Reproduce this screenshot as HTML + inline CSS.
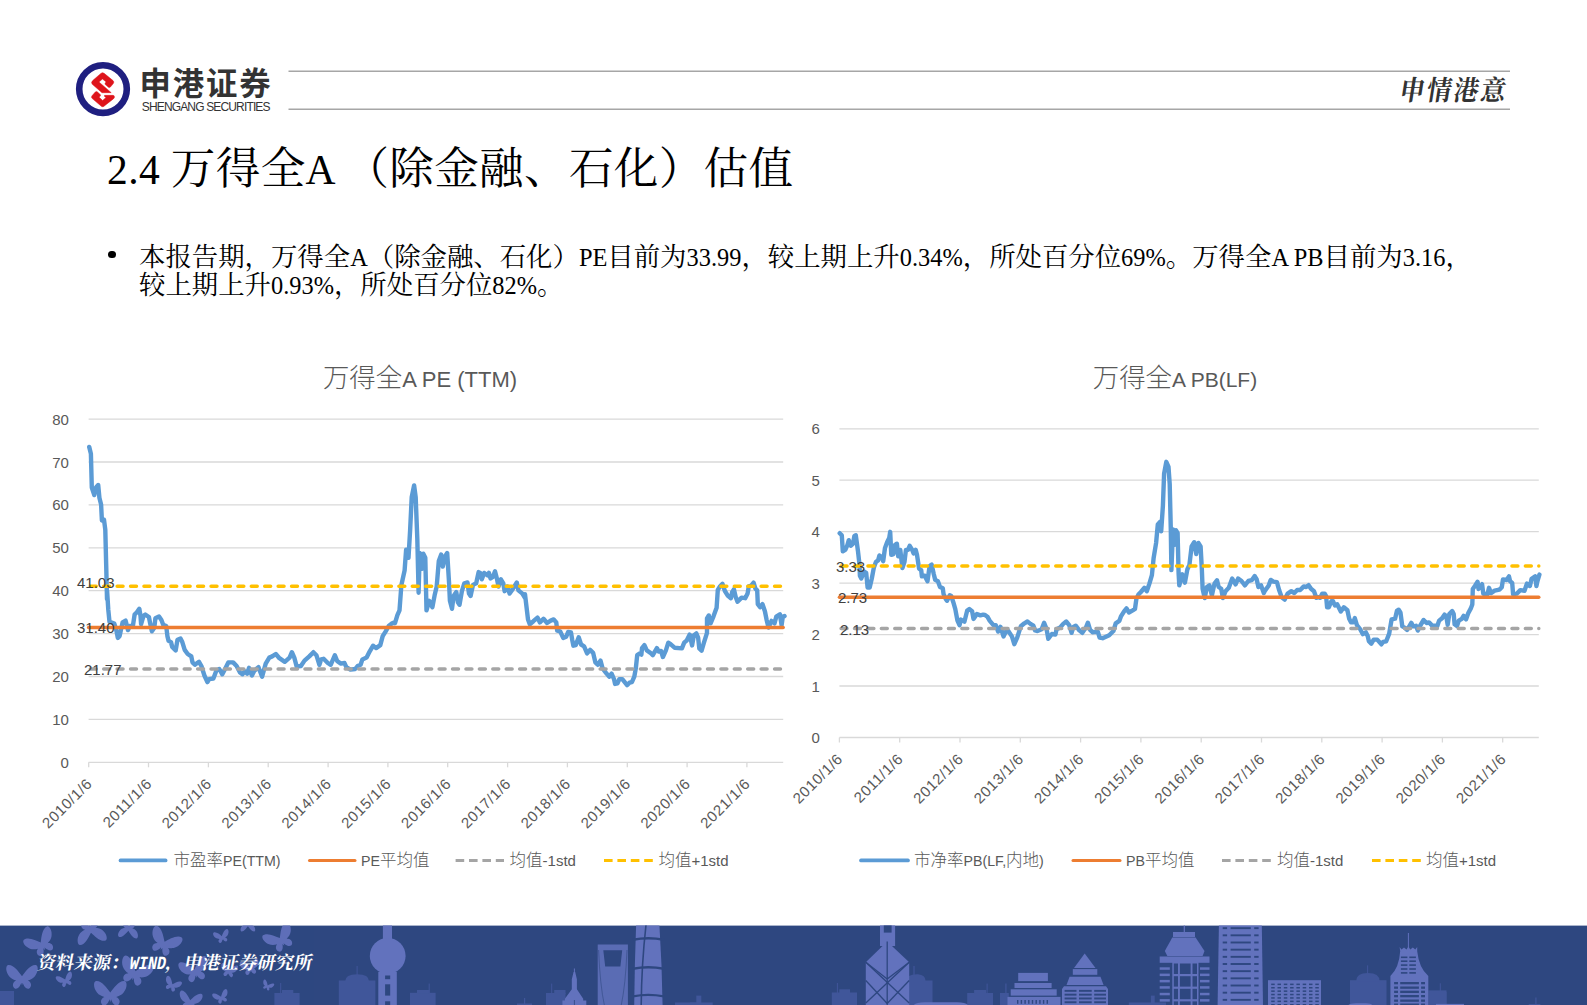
<!DOCTYPE html>
<html lang="zh"><head><meta charset="utf-8"><title>2.4 万得全A（除金融、石化）估值</title>
<style>
html,body{margin:0;padding:0;background:#fff;}
body{width:1587px;height:1005px;position:relative;overflow:hidden;font-family:"Liberation Serif","Noto Serif CJK SC",serif;}
.abs{position:absolute;white-space:nowrap;}
#brand{left:139.5px;top:65.3px;font:bold 31.4px/40px "Liberation Sans","Noto Sans CJK SC",sans-serif;color:#333;letter-spacing:1.9px;}
#brand2{left:141.8px;top:100.2px;font:12px/14px "Liberation Sans",sans-serif;color:#333;letter-spacing:-0.85px;}
#slogan{left:1400px;top:73px;font:700 25px/36px "Liberation Serif","Noto Serif CJK SC",serif;color:#333;transform:skewX(-9deg) scaleY(1.1);letter-spacing:2px;}
#title{left:107px;top:141px;font:44.6px/56px "Liberation Serif","Noto Serif CJK SC",serif;color:#000;}
#body{left:139px;top:244.2px;font:26.4px/27.9px "Liberation Serif","Noto Serif CJK SC",serif;color:#000;}
#bullet{left:108.3px;top:250.8px;width:7.4px;height:7.4px;border-radius:50%;background:#000;position:absolute;}
#src{left:34.5px;top:950px;letter-spacing:0.15px;font:bold 18.2px/26px "Liberation Serif","Noto Serif CJK SC",serif;color:#fff;transform:skewX(-11deg);transform-origin:0 100%;}
#src b{display:inline-block;font:bold 18.5px/26px "Liberation Mono",monospace;width:36.4px;transform:scaleX(0.82);transform-origin:0 50%;letter-spacing:0;}
#title{letter-spacing:0.3px;}
#title .l{font-size:41.5px;letter-spacing:0.4px;}
#body .l{font-size:24.4px;}
svg{position:absolute;left:0;top:0;}
svg text{font-family:'Liberation Sans','Noto Sans CJK SC',sans-serif;}
.ax{font-size:15px;fill:#595959;}
.dt{letter-spacing:0.6px;}
.cj{font-size:16.5px;font-weight:300;}
.up{font-size:14.2px;}
.ttl .cj{font-size:26.4px;}
.val{font-size:15px;fill:#404040;}
.ttl{font-size:21px;fill:#595959;}
.lg{font-size:15px;fill:#595959;}
</style></head><body>
<svg width="1587" height="1005" viewBox="0 0 1587 1005">
<line x1="288.5" y1="71.3" x2="1510" y2="71.3" stroke="#a6a6a6" stroke-width="1.5"/>
<line x1="288.5" y1="109.3" x2="1510" y2="109.3" stroke="#a6a6a6" stroke-width="1.5"/>
<circle cx="103" cy="89.1" r="23.8" fill="#fff" stroke="#1f1f80" stroke-width="6.6"/>
<g fill="#de141b" stroke="#de141b" stroke-width="0.5" stroke-linejoin="round">
<path d="M93,80.3 L100.9,73.4 Q102.47,72 104.1,73.3 L113,80.6 Q114.6,81.9 113.3,83.5 L110.6,86.8 Q109.5,88.1 108.2,87 L105.1,84.3 L105.1,83.1 L106.2,81.95 L102.47,78.97 L98.97,82.04 L111.2,92.65 L102,92.7 L92.3,84.3 Q90.6,82.4 93,80.3 Z"/>
<path d="M104.5,95.37 L112.9,95.37 Q114.5,95.4 114.45,97 Q114.5,97.9 113.3,98.9 L104,106.2 Q102.63,107.2 101.3,106.2 L92.3,98.6 Q90.7,97.25 92,95.8 L95.3,92 Q96.3,90.9 97.5,92 L100.75,95.08 L99.2,97.34 L102.63,100.51 L106.05,97.46 L104.5,96.4 Z"/>
</g>

<line x1="88.6" y1="762.3" x2="783.2" y2="762.3" stroke="#d9d9d9" stroke-width="1.3"/>
<text x="68.9" y="767.8" text-anchor="end" class="ax">0</text>
<line x1="88.6" y1="719.4" x2="783.2" y2="719.4" stroke="#d9d9d9" stroke-width="1.3"/>
<text x="68.9" y="724.9" text-anchor="end" class="ax">10</text>
<line x1="88.6" y1="676.5" x2="783.2" y2="676.5" stroke="#d9d9d9" stroke-width="1.3"/>
<text x="68.9" y="682.0" text-anchor="end" class="ax">20</text>
<line x1="88.6" y1="633.6" x2="783.2" y2="633.6" stroke="#d9d9d9" stroke-width="1.3"/>
<text x="68.9" y="639.1" text-anchor="end" class="ax">30</text>
<line x1="88.6" y1="590.7" x2="783.2" y2="590.7" stroke="#d9d9d9" stroke-width="1.3"/>
<text x="68.9" y="596.2" text-anchor="end" class="ax">40</text>
<line x1="88.6" y1="547.8" x2="783.2" y2="547.8" stroke="#d9d9d9" stroke-width="1.3"/>
<text x="68.9" y="553.3" text-anchor="end" class="ax">50</text>
<line x1="88.6" y1="504.9" x2="783.2" y2="504.9" stroke="#d9d9d9" stroke-width="1.3"/>
<text x="68.9" y="510.4" text-anchor="end" class="ax">60</text>
<line x1="88.6" y1="462.0" x2="783.2" y2="462.0" stroke="#d9d9d9" stroke-width="1.3"/>
<text x="68.9" y="467.5" text-anchor="end" class="ax">70</text>
<line x1="88.6" y1="419.1" x2="783.2" y2="419.1" stroke="#d9d9d9" stroke-width="1.3"/>
<text x="68.9" y="424.6" text-anchor="end" class="ax">80</text>
<line x1="88.7" y1="762.3" x2="88.7" y2="767.3" stroke="#d9d9d9" stroke-width="1.3"/>
<text transform="translate(93.0,784.6) rotate(-45)" text-anchor="end" class="ax dt">2010/1/6</text>
<line x1="148.5" y1="762.3" x2="148.5" y2="767.3" stroke="#d9d9d9" stroke-width="1.3"/>
<text transform="translate(152.8,784.6) rotate(-45)" text-anchor="end" class="ax dt">2011/1/6</text>
<line x1="208.4" y1="762.3" x2="208.4" y2="767.3" stroke="#d9d9d9" stroke-width="1.3"/>
<text transform="translate(212.7,784.6) rotate(-45)" text-anchor="end" class="ax dt">2012/1/6</text>
<line x1="268.2" y1="762.3" x2="268.2" y2="767.3" stroke="#d9d9d9" stroke-width="1.3"/>
<text transform="translate(272.5,784.6) rotate(-45)" text-anchor="end" class="ax dt">2013/1/6</text>
<line x1="328.1" y1="762.3" x2="328.1" y2="767.3" stroke="#d9d9d9" stroke-width="1.3"/>
<text transform="translate(332.4,784.6) rotate(-45)" text-anchor="end" class="ax dt">2014/1/6</text>
<line x1="387.9" y1="762.3" x2="387.9" y2="767.3" stroke="#d9d9d9" stroke-width="1.3"/>
<text transform="translate(392.2,784.6) rotate(-45)" text-anchor="end" class="ax dt">2015/1/6</text>
<line x1="447.7" y1="762.3" x2="447.7" y2="767.3" stroke="#d9d9d9" stroke-width="1.3"/>
<text transform="translate(452.0,784.6) rotate(-45)" text-anchor="end" class="ax dt">2016/1/6</text>
<line x1="507.6" y1="762.3" x2="507.6" y2="767.3" stroke="#d9d9d9" stroke-width="1.3"/>
<text transform="translate(511.9,784.6) rotate(-45)" text-anchor="end" class="ax dt">2017/1/6</text>
<line x1="567.4" y1="762.3" x2="567.4" y2="767.3" stroke="#d9d9d9" stroke-width="1.3"/>
<text transform="translate(571.7,784.6) rotate(-45)" text-anchor="end" class="ax dt">2018/1/6</text>
<line x1="627.3" y1="762.3" x2="627.3" y2="767.3" stroke="#d9d9d9" stroke-width="1.3"/>
<text transform="translate(631.6,784.6) rotate(-45)" text-anchor="end" class="ax dt">2019/1/6</text>
<line x1="687.1" y1="762.3" x2="687.1" y2="767.3" stroke="#d9d9d9" stroke-width="1.3"/>
<text transform="translate(691.4,784.6) rotate(-45)" text-anchor="end" class="ax dt">2020/1/6</text>
<line x1="746.9" y1="762.3" x2="746.9" y2="767.3" stroke="#d9d9d9" stroke-width="1.3"/>
<text transform="translate(751.2,784.6) rotate(-45)" text-anchor="end" class="ax dt">2021/1/6</text>
<path d="M89.2,446.9 L90.9,453.7 L91.8,487.5 L94.3,495.1 L96.0,487.5 L98.2,485.0 L99.4,497.7 L101.1,504.5 L101.9,520.5 L104.0,519.7 L105.3,529.8 L106.2,565.4 L107.0,599.2 L107.1,590.7 L108.3,609.9 L109.5,621.8 L114.3,623.6 L116.3,630.1 L117.8,637.9 L119.6,636.1 L121.4,627.8 L122.6,622.4 L125.6,620.6 L126.8,625.4 L128.0,630.1 L129.8,626.0 L132.8,626.6 L134.6,614.6 L136.9,612.2 L139.3,608.7 L140.5,615.8 L141.1,624.2 L143.5,615.8 L145.3,614.6 L148.9,617.0 L150.1,623.0 L151.9,631.3 L154.3,627.8 L155.4,618.2 L159.0,616.4 L161.4,620.0 L163.2,624.8 L166.2,626.0 L167.4,636.1 L168.6,640.9 L171.0,642.1 L172.2,646.9 L175.7,650.4 L177.5,639.7 L180.5,638.5 L182.3,642.1 L184.7,649.9 L187.7,654.0 L191.3,656.4 L192.5,662.4 L194.9,664.8 L199.0,661.8 L201.4,666.0 L204.4,675.5 L207.4,682.1 L209.2,679.1 L213.4,678.5 L216.3,670.7 L219.3,669.0 L222.3,674.3 L225.3,668.4 L228.3,662.4 L233.1,662.4 L236.6,666.0 L240.0,672.5 L240.0,672.5 L242.4,674.3 L244.8,671.3 L247.2,673.7 L249.0,667.8 L251.9,675.5 L254.3,670.7 L258.5,667.2 L262.1,676.7 L265.7,663.6 L269.3,657.6 L272.2,656.4 L275.8,654.0 L279.4,658.2 L284.8,661.8 L289.6,657.6 L291.9,652.2 L294.3,657.6 L296.7,666.6 L300.9,666.0 L304.5,660.6 L309.3,656.4 L313.4,652.2 L316.4,655.2 L319.4,664.8 L321.2,659.4 L323.6,658.8 L327.8,663.0 L330.7,664.8 L334.9,655.2 L337.3,661.2 L340.9,663.6 L344.5,663.0 L346.3,667.2 L350.4,669.6 L355.2,669.0 L357.6,666.0 L360.6,664.8 L362.4,659.4 L366.6,657.6 L369.6,651.6 L373.1,645.7 L376.1,648.1 L380.3,645.1 L382.7,636.1 L385.7,631.3 L388.7,626.0 L391.6,623.6 L394.6,622.4 L395.0,623.1 L397.4,615.1 L399.5,610.4 L401.4,584.9 L404.6,570.5 L406.1,549.8 L408.5,557.8 L410.1,530.7 L411.7,497.3 L414.1,485.4 L415.7,497.3 L417.3,538.7 L418.6,592.8 L419.7,553.0 L422.1,568.9 L423.3,553.8 L425.3,557.8 L426.5,610.4 L429.2,600.8 L432.4,607.2 L434.8,594.4 L436.7,586.5 L438.8,561.0 L441.2,554.6 L442.8,566.6 L445.2,556.2 L447.2,553.0 L449.1,583.3 L449.9,600.8 L452.0,608.8 L453.6,596.0 L456.3,592.0 L457.9,602.4 L459.5,604.8 L461.9,591.2 L464.3,583.3 L467.5,582.5 L469.0,593.6 L470.6,596.0 L473.0,584.9 L476.2,583.3 L478.6,572.1 L480.2,572.9 L481.8,579.3 L484.2,572.9 L487.4,575.3 L488.9,572.9 L490.5,578.5 L492.9,576.9 L495.0,571.3 L496.9,578.5 L498.5,586.5 L500.9,579.3 L503.3,583.3 L504.6,591.2 L507.3,586.5 L509.6,593.6 L512.8,588.9 L516.8,582.5 L518.4,590.4 L522.4,593.6 L524.8,597.6 L525.0,594.3 L528.0,619.4 L529.8,624.2 L533.4,621.2 L537.5,617.6 L539.9,622.4 L543.5,618.8 L547.1,623.0 L550.7,620.6 L553.7,619.4 L556.3,622.4 L557.2,630.7 L560.2,631.3 L563.2,637.9 L566.2,636.7 L568.2,631.9 L571.0,632.5 L572.2,639.7 L573.4,645.7 L575.7,645.1 L578.7,637.3 L581.1,644.5 L584.1,646.3 L587.1,653.4 L590.1,649.9 L593.1,652.8 L595.4,662.4 L597.8,664.8 L600.5,660.6 L602.6,668.4 L606.2,673.1 L609.2,676.7 L611.6,673.7 L614.0,679.1 L615.1,683.9 L617.5,683.3 L619.3,679.1 L622.3,679.1 L627.1,685.1 L629.5,682.7 L631.9,682.1 L634.3,676.7 L635.8,668.4 L637.2,655.2 L639.9,653.4 L641.4,654.6 L642.0,648.1 L644.4,645.1 L646.8,650.4 L650.4,652.8 L652.8,655.2 L656.9,648.1 L658.7,651.6 L661.1,651.0 L662.9,657.0 L665.9,650.4 L668.3,642.7 L670.0,643.6 L674.8,647.8 L681.9,648.4 L684.3,642.4 L686.7,640.6 L689.7,634.6 L692.1,645.4 L693.9,635.2 L696.3,633.4 L698.1,637.6 L699.3,648.4 L701.6,650.7 L704.0,642.4 L707.0,632.8 L707.0,618.5 L708.8,615.5 L710.6,623.3 L713.6,616.1 L716.6,607.8 L717.8,589.9 L720.1,586.3 L722.5,583.9 L724.9,591.0 L727.9,595.8 L730.9,598.2 L732.1,592.2 L733.9,589.3 L735.7,597.0 L737.5,601.8 L741.6,597.6 L745.2,598.2 L747.6,593.4 L748.8,586.3 L751.2,585.7 L753.6,582.7 L755.4,588.7 L757.2,590.4 L757.8,604.2 L760.1,607.2 L762.5,604.2 L764.9,611.3 L766.7,620.3 L768.5,627.5 L771.5,620.9 L774.5,623.3 L776.3,616.7 L779.9,614.3 L781.6,625.1 L782.8,616.7 L784.6,616.1" fill="none" stroke="#5b9bd5" stroke-width="4.4" stroke-linejoin="round" stroke-linecap="round"/>
<line x1="88.6" y1="627.5" x2="783.2" y2="627.5" stroke="#ed7d31" stroke-width="3.4" stroke-linecap="round"/>
<line x1="88.6" y1="669.0" x2="783.2" y2="669.0" stroke="#a5a5a5" stroke-width="3.5" stroke-dasharray="5.9 7.517" stroke-dashoffset="-1.7" stroke-linecap="round"/>
<line x1="88.6" y1="586.2" x2="783.2" y2="586.2" stroke="#ffc000" stroke-width="3.5" stroke-dasharray="5.9 7.517" stroke-dashoffset="-1.7" stroke-linecap="round"/>
<text x="77" y="587.5" class="val">41.03</text>
<text x="77" y="632.5" class="val">31.40</text>
<text x="84" y="675" class="val">21.77</text>
<text x="420" y="387" text-anchor="middle" class="ttl"><tspan class="cj">万得全</tspan><tspan font-size="22">A PE (TTM)</tspan></text>
<line x1="120.5" y1="860.4" x2="165.6" y2="860.4" stroke="#5b9bd5" stroke-width="3.7" stroke-linecap="round"/>
<text x="173.5" y="866" class="lg"><tspan class="cj">市盈率</tspan><tspan class="up">PE(TTM)</tspan></text>
<line x1="309.5" y1="860.4" x2="355" y2="860.4" stroke="#ed7d31" stroke-width="3.0" stroke-linecap="round"/>
<text x="361" y="866" class="lg"><tspan class="up">PE</tspan><tspan class="cj">平均值</tspan></text>
<line x1="455.6" y1="860.4" x2="504" y2="860.4" stroke="#a5a5a5" stroke-width="3.0" stroke-dasharray="8.6 4.8"/>
<text x="509.6" y="866" class="lg"><tspan class="cj">均值</tspan>-1std</text>
<line x1="604" y1="860.4" x2="653" y2="860.4" stroke="#ffc000" stroke-width="3.0" stroke-dasharray="8.6 4.8"/>
<text x="658.5" y="866" class="lg"><tspan class="cj">均值</tspan>+1std</text>
<line x1="839.4" y1="737.5" x2="1538.8" y2="737.5" stroke="#d9d9d9" stroke-width="1.3"/>
<text x="819.8" y="743.0" text-anchor="end" class="ax">0</text>
<line x1="839.4" y1="686.0" x2="1538.8" y2="686.0" stroke="#d9d9d9" stroke-width="1.3"/>
<text x="819.8" y="691.5" text-anchor="end" class="ax">1</text>
<line x1="839.4" y1="634.6" x2="1538.8" y2="634.6" stroke="#d9d9d9" stroke-width="1.3"/>
<text x="819.8" y="640.1" text-anchor="end" class="ax">2</text>
<line x1="839.4" y1="583.1" x2="1538.8" y2="583.1" stroke="#d9d9d9" stroke-width="1.3"/>
<text x="819.8" y="588.6" text-anchor="end" class="ax">3</text>
<line x1="839.4" y1="531.7" x2="1538.8" y2="531.7" stroke="#d9d9d9" stroke-width="1.3"/>
<text x="819.8" y="537.2" text-anchor="end" class="ax">4</text>
<line x1="839.4" y1="480.2" x2="1538.8" y2="480.2" stroke="#d9d9d9" stroke-width="1.3"/>
<text x="819.8" y="485.7" text-anchor="end" class="ax">5</text>
<line x1="839.4" y1="428.8" x2="1538.8" y2="428.8" stroke="#d9d9d9" stroke-width="1.3"/>
<text x="819.8" y="434.2" text-anchor="end" class="ax">6</text>
<line x1="839.4" y1="737.5" x2="839.4" y2="742.5" stroke="#d9d9d9" stroke-width="1.3"/>
<text transform="translate(843.7,759.8) rotate(-45)" text-anchor="end" class="ax dt">2010/1/6</text>
<line x1="899.7" y1="737.5" x2="899.7" y2="742.5" stroke="#d9d9d9" stroke-width="1.3"/>
<text transform="translate(904.0,759.8) rotate(-45)" text-anchor="end" class="ax dt">2011/1/6</text>
<line x1="960.0" y1="737.5" x2="960.0" y2="742.5" stroke="#d9d9d9" stroke-width="1.3"/>
<text transform="translate(964.3,759.8) rotate(-45)" text-anchor="end" class="ax dt">2012/1/6</text>
<line x1="1020.3" y1="737.5" x2="1020.3" y2="742.5" stroke="#d9d9d9" stroke-width="1.3"/>
<text transform="translate(1024.6,759.8) rotate(-45)" text-anchor="end" class="ax dt">2013/1/6</text>
<line x1="1080.6" y1="737.5" x2="1080.6" y2="742.5" stroke="#d9d9d9" stroke-width="1.3"/>
<text transform="translate(1084.9,759.8) rotate(-45)" text-anchor="end" class="ax dt">2014/1/6</text>
<line x1="1140.9" y1="737.5" x2="1140.9" y2="742.5" stroke="#d9d9d9" stroke-width="1.3"/>
<text transform="translate(1145.2,759.8) rotate(-45)" text-anchor="end" class="ax dt">2015/1/6</text>
<line x1="1201.2" y1="737.5" x2="1201.2" y2="742.5" stroke="#d9d9d9" stroke-width="1.3"/>
<text transform="translate(1205.5,759.8) rotate(-45)" text-anchor="end" class="ax dt">2016/1/6</text>
<line x1="1261.5" y1="737.5" x2="1261.5" y2="742.5" stroke="#d9d9d9" stroke-width="1.3"/>
<text transform="translate(1265.8,759.8) rotate(-45)" text-anchor="end" class="ax dt">2017/1/6</text>
<line x1="1321.8" y1="737.5" x2="1321.8" y2="742.5" stroke="#d9d9d9" stroke-width="1.3"/>
<text transform="translate(1326.1,759.8) rotate(-45)" text-anchor="end" class="ax dt">2018/1/6</text>
<line x1="1382.1" y1="737.5" x2="1382.1" y2="742.5" stroke="#d9d9d9" stroke-width="1.3"/>
<text transform="translate(1386.4,759.8) rotate(-45)" text-anchor="end" class="ax dt">2019/1/6</text>
<line x1="1442.4" y1="737.5" x2="1442.4" y2="742.5" stroke="#d9d9d9" stroke-width="1.3"/>
<text transform="translate(1446.7,759.8) rotate(-45)" text-anchor="end" class="ax dt">2020/1/6</text>
<line x1="1502.7" y1="737.5" x2="1502.7" y2="742.5" stroke="#d9d9d9" stroke-width="1.3"/>
<text transform="translate(1507.0,759.8) rotate(-45)" text-anchor="end" class="ax dt">2021/1/6</text>
<path d="M839.7,533.2 L841.8,535.3 L842.8,551.3 L845.3,549.9 L847.4,545.1 L848.8,540.2 L850.9,545.8 L853.0,543.7 L854.4,536.0 L855.8,535.3 L857.9,550.6 L859.5,564.6 L859.9,575.7 L861.3,578.5 L864.1,571.5 L866.2,572.9 L867.6,587.5 L869.7,587.5 L871.8,578.5 L873.9,567.4 L876.0,561.8 L878.1,560.4 L879.4,555.5 L881.5,556.9 L883.2,561.1 L885.0,547.9 L887.1,542.3 L889.2,538.1 L890.2,531.8 L891.3,554.8 L893.4,554.1 L894.8,545.1 L896.9,543.7 L898.2,556.2 L900.3,549.9 L902.4,568.1 L904.5,561.8 L905.9,549.9 L908.0,549.9 L909.7,545.8 L912.2,549.9 L913.6,553.4 L915.7,549.9 L917.0,554.8 L919.1,568.7 L921.2,570.1 L921.9,576.4 L924.7,575.7 L927.5,581.3 L929.6,566.0 L931.7,564.6 L933.8,574.3 L935.2,579.9 L937.9,581.3 L940.0,586.9 L942.8,588.2 L943.5,593.8 L945.6,598.7 L947.0,600.8 L949.8,595.2 L951.2,595.9 L953.3,602.2 L955.3,609.1 L957.4,620.3 L959.5,625.2 L960.9,619.6 L964.4,621.7 L967.2,610.5 L969.3,609.1 L972.1,611.2 L973.5,618.9 L976.9,614.0 L980.4,615.4 L983.2,614.7 L985.0,614.9 L987.4,616.7 L989.8,620.9 L993.4,625.1 L995.7,625.1 L998.1,631.6 L1000.5,626.9 L1003.5,636.4 L1005.9,631.6 L1008.3,631.0 L1011.9,636.4 L1014.3,644.2 L1017.2,637.6 L1020.8,626.3 L1024.4,623.3 L1027.4,621.5 L1030.4,623.9 L1033.4,625.7 L1035.1,630.4 L1037.5,631.0 L1041.7,629.3 L1044.1,622.7 L1046.5,628.7 L1048.3,638.8 L1051.9,634.0 L1055.4,634.6 L1056.6,629.3 L1060.2,627.5 L1063.2,623.9 L1066.2,621.5 L1069.2,625.1 L1071.6,632.8 L1073.4,626.9 L1075.7,625.7 L1079.3,630.4 L1082.3,632.8 L1085.9,627.5 L1087.9,622.7 L1090.1,629.9 L1092.5,632.2 L1097.8,631.6 L1099.6,637.6 L1102.6,638.2 L1109.2,635.2 L1113.4,631.0 L1115.7,623.3 L1119.3,620.9 L1121.1,616.1 L1124.1,611.3 L1126.5,608.4 L1128.9,612.5 L1133.1,610.1 L1135.0,608.9 L1136.4,598.8 L1138.4,594.6 L1140.9,592.0 L1144.3,587.8 L1146.8,591.2 L1149.4,583.6 L1151.9,575.1 L1153.6,558.2 L1156.1,543.0 L1157.8,524.4 L1160.0,521.9 L1161.2,531.2 L1162.9,505.8 L1164.1,473.7 L1166.3,461.8 L1168.5,466.9 L1169.7,483.8 L1170.8,529.5 L1171.4,570.1 L1173.0,529.5 L1174.7,544.7 L1175.9,530.3 L1177.6,532.9 L1178.6,573.4 L1179.3,585.3 L1182.3,574.3 L1184.9,582.7 L1187.4,569.2 L1189.4,565.0 L1191.6,546.4 L1194.2,542.2 L1196.2,554.0 L1198.4,543.0 L1200.6,546.4 L1201.8,568.4 L1202.6,588.7 L1204.7,598.0 L1206.9,587.0 L1209.4,585.3 L1211.9,595.4 L1214.5,583.6 L1217.0,580.2 L1218.7,587.0 L1221.2,588.7 L1222.9,598.0 L1225.5,591.2 L1228.8,587.8 L1232.2,578.5 L1235.6,584.4 L1238.1,578.5 L1241.5,581.0 L1244.9,585.3 L1248.3,581.0 L1251.7,580.2 L1254.7,576.0 L1256.7,579.4 L1258.4,587.0 L1261.0,585.3 L1263.8,592.9 L1265.0,590.6 L1268.6,585.8 L1270.7,579.9 L1273.4,581.6 L1276.9,582.2 L1279.3,590.6 L1281.7,597.2 L1284.7,599.6 L1287.7,593.6 L1291.3,591.2 L1294.3,593.0 L1297.2,590.0 L1300.2,590.0 L1303.8,586.4 L1306.2,587.0 L1308.6,585.2 L1311.0,588.8 L1314.0,591.2 L1316.3,597.8 L1318.1,597.2 L1320.2,597.8 L1322.3,593.6 L1324.7,593.6 L1326.1,596.0 L1327.1,607.3 L1328.9,607.3 L1331.3,601.3 L1333.1,601.3 L1334.9,605.5 L1337.2,604.3 L1340.8,611.5 L1343.8,607.3 L1347.4,610.3 L1349.2,618.7 L1351.0,622.2 L1353.4,622.2 L1354.8,618.1 L1356.9,625.2 L1359.9,628.8 L1362.9,634.2 L1365.9,632.4 L1367.7,636.0 L1368.9,641.3 L1371.3,643.7 L1373.7,639.6 L1377.2,639.6 L1381.4,644.3 L1383.2,641.9 L1386.2,641.3 L1389.2,633.6 L1391.6,619.3 L1395.1,618.7 L1396.9,610.9 L1398.7,609.7 L1400.5,612.7 L1402.3,626.4 L1404.7,627.6 L1407.1,630.0 L1411.3,622.8 L1413.1,626.4 L1416.0,625.8 L1417.8,630.6 L1420.0,626.0 L1423.6,620.0 L1426.6,623.0 L1429.0,622.4 L1431.9,625.4 L1437.3,626.0 L1439.1,620.6 L1442.1,618.2 L1444.5,614.6 L1446.3,616.4 L1447.7,624.8 L1449.3,614.0 L1452.2,611.0 L1453.7,614.0 L1454.6,624.2 L1457.0,626.0 L1458.8,620.6 L1461.8,618.8 L1463.6,615.8 L1466.0,619.4 L1468.4,612.8 L1470.7,608.7 L1472.3,604.5 L1472.8,589.0 L1474.9,586.0 L1477.6,581.8 L1478.5,589.0 L1482.1,584.2 L1483.3,593.7 L1487.5,594.3 L1489.0,587.8 L1491.0,593.1 L1494.6,590.7 L1499.4,589.6 L1501.8,587.2 L1503.0,579.4 L1506.6,580.0 L1509.0,576.4 L1510.1,581.2 L1512.2,583.0 L1513.1,594.3 L1516.7,593.7 L1520.3,590.1 L1524.5,590.7 L1526.9,583.6 L1529.9,586.0 L1531.6,578.8 L1535.2,576.4 L1536.4,586.0 L1537.6,580.6 L1539.4,574.6" fill="none" stroke="#5b9bd5" stroke-width="4.4" stroke-linejoin="round" stroke-linecap="round"/>
<line x1="839.4" y1="597.2" x2="1538.8" y2="597.2" stroke="#ed7d31" stroke-width="3.4" stroke-linecap="round"/>
<line x1="839.4" y1="628.4" x2="1538.8" y2="628.4" stroke="#a5a5a5" stroke-width="3.5" stroke-dasharray="5.9 7.517" stroke-dashoffset="-1.7" stroke-linecap="round"/>
<line x1="839.4" y1="566.0" x2="1538.8" y2="566.0" stroke="#ffc000" stroke-width="3.5" stroke-dasharray="5.9 7.517" stroke-dashoffset="-1.7" stroke-linecap="round"/>
<text x="836" y="572" class="val">3.33</text>
<text x="838" y="603" class="val">2.73</text>
<text x="840" y="634.5" class="val">2.13</text>
<text x="1175" y="387" text-anchor="middle" class="ttl"><tspan class="cj">万得全</tspan><tspan font-size="21">A PB(LF)</tspan></text>
<line x1="861" y1="860.4" x2="908" y2="860.4" stroke="#5b9bd5" stroke-width="3.7" stroke-linecap="round"/>
<text x="914" y="866" class="lg"><tspan class="cj">市净率</tspan><tspan class="up">PB(LF,</tspan><tspan class="cj">内地</tspan><tspan class="up">)</tspan></text>
<line x1="1073" y1="860.4" x2="1120" y2="860.4" stroke="#ed7d31" stroke-width="3.0" stroke-linecap="round"/>
<text x="1126" y="866" class="lg"><tspan class="up">PB</tspan><tspan class="cj">平均值</tspan></text>
<line x1="1222" y1="860.4" x2="1271" y2="860.4" stroke="#a5a5a5" stroke-width="3.0" stroke-dasharray="8.6 4.8"/>
<text x="1277" y="866" class="lg"><tspan class="cj">均值</tspan>-1std</text>
<line x1="1372" y1="860.4" x2="1421" y2="860.4" stroke="#ffc000" stroke-width="3.0" stroke-dasharray="8.6 4.8"/>
<text x="1426" y="866" class="lg"><tspan class="cj">均值</tspan>+1std</text>
<rect x="0" y="925.6" width="1587" height="80" fill="#2e4780"/>
<defs><clipPath id="fc"><rect x="0" y="925.6" width="1587" height="80"/></clipPath><g id="bf"><path d="M0,-0.12 C0.22,-0.4 0.55,-0.9 0.92,-0.86 C1.12,-0.8 1.08,-0.38 0.86,-0.12 C0.74,0.04 0.55,0.12 0.38,0.16 C0.6,0.24 0.68,0.5 0.52,0.66 C0.36,0.82 0.14,0.62 0.05,0.32 L0,0.5 L-0.05,0.32 C-0.14,0.62 -0.36,0.82 -0.52,0.66 C-0.68,0.5 -0.6,0.24 -0.38,0.16 C-0.55,0.12 -0.74,0.04 -0.86,-0.12 C-1.08,-0.38 -1.12,-0.8 -0.92,-0.86 C-0.55,-0.9 -0.22,-0.4 0,-0.12 Z"/></g></defs>
<g clip-path="url(#fc)">
<g fill="#6272bd" opacity="0.93">
<use href="#bf" transform="translate(41.6,943.9) rotate(-30) scale(14.50)"/>
<use href="#bf" transform="translate(90.7,931) rotate(170) scale(14.00)"/>
<use href="#bf" transform="translate(128.5,929.5) rotate(185) scale(9.50)"/>
<use href="#bf" transform="translate(163.8,943.3) rotate(25) scale(15.00)"/>
<use href="#bf" transform="translate(22,978) rotate(0) scale(15.00)"/>
<use href="#bf" transform="translate(65.5,980.5) rotate(-20) scale(8.00)"/>
<use href="#bf" transform="translate(110.3,994.4) rotate(0) scale(15.50)"/>
<use href="#bf" transform="translate(134.8,973) rotate(20) scale(15.50)"/>
<use href="#bf" transform="translate(172,985) rotate(25) scale(8.00)"/>
<use href="#bf" transform="translate(195,971) rotate(-15) scale(14.00)"/>
<use href="#bf" transform="translate(190,1001.5) rotate(10) scale(11.00)"/>
<use href="#bf" transform="translate(222,937) rotate(-15) scale(7.50)"/>
<use href="#bf" transform="translate(280.7,939.5) rotate(-30) scale(14.50)"/>
<use href="#bf" transform="translate(247.9,925.5) rotate(180) scale(7.00)"/>
<use href="#bf" transform="translate(228.9,971) rotate(10) scale(8.00)"/>
<use href="#bf" transform="translate(250,968) rotate(-10) scale(9.00)"/>
<use href="#bf" transform="translate(267.4,986) rotate(25) scale(5.50)"/>
<use href="#bf" transform="translate(221.4,997.5) rotate(-20) scale(7.50)"/>
</g>
<rect x="0" y="991" width="14.0" height="15.0" fill="#40569a"/>
<rect x="274.4" y="993" width="25.2" height="13.0" fill="#40569a"/>
<rect x="282" y="990" width="11.3" height="4.0" fill="#40569a"/>
<line x1="280.7" y1="983" x2="280.7" y2="994" stroke="#40569a" stroke-width="1"/>
<rect x="338.8" y="980.5" width="36.6" height="25.5" fill="#40569a"/>
<path d="M345.1,981.5 Q345.1,974.2 357.1,974.2 Q369.1,974.2 369.1,981.5 Z" fill="#40569a"/>
<line x1="357.1" y1="966" x2="357.1" y2="975.2" stroke="#40569a" stroke-width="1"/>
<rect x="410" y="992.8" width="25.6" height="13.2" fill="#40569a"/>
<rect x="417" y="990" width="12.6" height="3.8" fill="#40569a"/>
<line x1="429.2" y1="983.6" x2="429.2" y2="993.8" stroke="#40569a" stroke-width="1"/>
<rect x="517" y="1003.5" width="15.0" height="2.5" fill="#40569a"/>
<line x1="524.6" y1="998" x2="524.6" y2="1004" stroke="#40569a" stroke-width="1.2"/>
<rect x="546" y="993" width="19.5" height="13.0" fill="#40569a"/>
<rect x="554.2" y="990" width="11.3" height="4.0" fill="#40569a"/>
<line x1="551.7" y1="983.6" x2="551.7" y2="994" stroke="#40569a" stroke-width="1"/>
<rect x="690" y="1002.5" width="22.7" height="3.5" fill="#40569a"/>
<rect x="696.3" y="995.6" width="5.0" height="7.4" fill="#40569a"/>
<rect x="675" y="1002.5" width="25.0" height="3.5" fill="#40569a"/>
<rect x="831.8" y="992.5" width="25.2" height="13.5" fill="#40569a"/>
<rect x="839.3" y="989.3" width="10.7" height="4.2" fill="#40569a"/>
<line x1="837.4" y1="983" x2="837.4" y2="993.5" stroke="#40569a" stroke-width="1"/>
<rect x="909" y="980.5" width="23.5" height="25.5" fill="#40569a"/>
<path d="M909,981 L909,976 Q912,974 918,974.2 Q925.6,975 925.6,981 Z" fill="#40569a"/>
<line x1="914" y1="966" x2="914" y2="975" stroke="#40569a" stroke-width="1.2"/>
<rect x="967.2" y="993" width="25.8" height="13.0" fill="#40569a"/>
<rect x="974.1" y="990" width="12.0" height="4.0" fill="#40569a"/>
<line x1="987.1" y1="983.6" x2="987.1" y2="994" stroke="#40569a" stroke-width="1"/>
<rect x="1000" y="993" width="8.8" height="13.0" fill="#40569a"/>
<line x1="1005.9" y1="983.6" x2="1005.9" y2="994" stroke="#40569a" stroke-width="1.2"/>
<rect x="1128.8" y="1002.5" width="37.2" height="3.5" fill="#40569a"/>
<rect x="1150.9" y="995.6" width="3.8" height="7.4" fill="#40569a"/>
<rect x="1350" y="980.2" width="36.5" height="25.8" fill="#40569a"/>
<path d="M1356.3,981.2 Q1356.3,973 1367.9499999999998,973 Q1379.6,973 1379.6,981.2 Z" fill="#40569a"/>
<line x1="1367.6" y1="965.4" x2="1367.6" y2="974" stroke="#40569a" stroke-width="1"/>
<rect x="1428.3" y="990.4" width="18.2" height="15.6" fill="#40569a"/>
<rect x="1437" y="992" width="9.5" height="14.0" fill="#40569a"/>
<line x1="1440.3" y1="983.3" x2="1440.3" y2="991" stroke="#40569a" stroke-width="1"/>
<rect x="1528.7" y="1004" width="11.7" height="2.0" fill="#40569a"/>
<line x1="1535.9" y1="997.6" x2="1535.9" y2="1005" stroke="#40569a" stroke-width="1.2"/>
<rect x="382.9" y="925" width="9.1" height="20.0" fill="#6272bd"/>
<circle cx="387.7" cy="955.9" r="17.9" fill="#6272bd"/>
<rect x="378.3" y="972" width="18.5" height="34.0" fill="#6272bd"/>
<rect x="385.1" y="975.5" width="5.1" height="3.7" fill="#2e4780"/>
<rect x="385.1" y="984.3" width="5.1" height="11.3" fill="#2e4780"/>
<rect x="385.1" y="1001.3" width="5.1" height="4.7" fill="#2e4780"/>
<line x1="574.4" y1="968.5" x2="574.4" y2="980" stroke="#6272bd" stroke-width="1"/>
<polygon points="573.6,972 575.2,972 576.9,979.2 576.9,989.3 583.2,998.8 583.2,1000.6 586.3,1000.6 586.3,1006 562.4,1006 562.4,1000.6 564.9,1000.6 564.9,998.8 571.8,989.3 571.8,979.2" fill="#6272bd"/>
<line x1="574.4" y1="1000" x2="574.4" y2="1006" stroke="#2e4780" stroke-width="0.8"/>
<path d="M597.7,1006 L597.7,944.6 L627.9,944.6 L627.9,1006 Z M603.3,950.2 L605.2,966.6 L620.4,966.6 L622.2,950.2 Z" fill="#6272bd" fill-rule="evenodd" opacity="0.86"/>
<path d="M598.6,950 Q600,985 604.5,1006 M627,950 Q625.6,985 621.1,1006" stroke="#2e4780" stroke-width="0.7" fill="none" opacity="0.8"/>
<path d="M636.1,925 L659.4,925 Q662,965 662.6,1006 L634.2,1006 Q634.6,965 636.1,925 Z" fill="#6272bd"/>
<path d="M633,939.6999999999999 Q648,936.6999999999999 664,939.6999999999999" stroke="#2e4780" stroke-width="2.4" fill="none"/>
<path d="M633,968.6999999999999 Q648,965.6999999999999 664,968.6999999999999" stroke="#2e4780" stroke-width="2.4" fill="none"/>
<path d="M633,996.4 Q648,993.4 664,996.4" stroke="#2e4780" stroke-width="2.4" fill="none"/>
<path d="M646,925 Q641.5,965 641.2,1006" stroke="#2e4780" stroke-width="1.6" fill="none"/>
<rect x="880" y="925" width="15.1" height="21.0" fill="#6272bd"/>
<rect x="883.8" y="925" width="7.8" height="7.6" fill="#2e4780"/>
<polygon points="887.2,941.4 909.2,962.2 909.2,1006 865.8,1006 865.8,962.2" fill="#6272bd"/>
<line x1="887.2" y1="941.4" x2="887.2" y2="1006" stroke="#2e4780" stroke-width="1.3"/>
<line x1="865.8" y1="962.2" x2="909.2" y2="1003" stroke="#2e4780" stroke-width="1.3"/>
<line x1="909.2" y1="962.2" x2="865.8" y2="1003" stroke="#2e4780" stroke-width="1.3"/>
<line x1="865.8" y1="980.5" x2="887.2" y2="1003.5" stroke="#2e4780" stroke-width="1.3"/>
<line x1="909.2" y1="980.5" x2="887.2" y2="1003.5" stroke="#2e4780" stroke-width="1.3"/>
<line x1="865.8" y1="962.2" x2="887.2" y2="979" stroke="#2e4780" stroke-width="1.3"/>
<line x1="909.2" y1="962.2" x2="887.2" y2="979" stroke="#2e4780" stroke-width="1.3"/>
<path d="M913,1006 Q915,1002.3 925,1002.3 L957,1002.3 Q967,1002.3 968.5,1006 Z" fill="#6272bd"/>
<path d="M1347.5,1006 Q1349,1003.2 1356,1003.2 L1366,1003.2 Q1372,1003.2 1372.7,1006 Z" fill="#6272bd"/>
<rect x="1436" y="1003.9" width="28.0" height="2.1" fill="#6272bd"/>
<rect x="1018.2" y="972.9" width="29.7" height="8.2" fill="#6272bd"/>
<rect x="1014.5" y="983" width="37.1" height="5.0" fill="#6272bd"/>
<rect x="1010.7" y="989.3" width="46.0" height="6.3" fill="#6272bd"/>
<rect x="1007.5" y="996.9" width="53.0" height="9.1" fill="#6272bd"/>
<rect x="1017.0" y="1000" width="1.4" height="3.8" fill="#2e4780"/>
<rect x="1020.7" y="1000" width="1.4" height="3.8" fill="#2e4780"/>
<rect x="1024.4" y="1000" width="1.4" height="3.8" fill="#2e4780"/>
<rect x="1028.1" y="1000" width="1.4" height="3.8" fill="#2e4780"/>
<rect x="1031.8" y="1000" width="1.4" height="3.8" fill="#2e4780"/>
<rect x="1035.5" y="1000" width="1.4" height="3.8" fill="#2e4780"/>
<rect x="1039.2" y="1000" width="1.4" height="3.8" fill="#2e4780"/>
<rect x="1042.9" y="1000" width="1.4" height="3.8" fill="#2e4780"/>
<rect x="1046.6" y="1000" width="1.4" height="3.8" fill="#2e4780"/>
<polygon points="1084.7,953.4 1095.5,967.9 1074,967.9" fill="#6272bd"/>
<rect x="1072.8" y="969.1" width="24.5" height="5.7" fill="#6272bd"/>
<polygon points="1069.6,976.7 1100.5,976.7 1103.6,984.9 1066.5,984.9" fill="#6272bd"/>
<polygon points="1064,986.2 1106,986.2 1108,989 1108,1006 1062,1006 1062,989" fill="#6272bd"/>
<rect x="1064.6" y="989.9" width="11.9" height="1.9" fill="#2e4780"/>
<rect x="1079" y="989.9" width="12.7" height="1.9" fill="#2e4780"/>
<rect x="1094.2" y="989.9" width="11.8" height="1.9" fill="#2e4780"/>
<rect x="1064.6" y="993.7" width="11.9" height="1.9" fill="#2e4780"/>
<rect x="1079" y="993.7" width="12.7" height="1.9" fill="#2e4780"/>
<rect x="1094.2" y="993.7" width="11.8" height="1.9" fill="#2e4780"/>
<rect x="1064.6" y="997.5" width="11.9" height="1.9" fill="#2e4780"/>
<rect x="1079" y="997.5" width="12.7" height="1.9" fill="#2e4780"/>
<rect x="1094.2" y="997.5" width="11.8" height="1.9" fill="#2e4780"/>
<rect x="1064.6" y="1001.3" width="11.9" height="1.9" fill="#2e4780"/>
<rect x="1079" y="1001.3" width="12.7" height="1.9" fill="#2e4780"/>
<rect x="1094.2" y="1001.3" width="11.8" height="1.9" fill="#2e4780"/>
<line x1="1184.3" y1="925" x2="1184.3" y2="933" stroke="#6272bd" stroke-width="1.2"/>
<rect x="1173" y="932" width="22.0" height="5.0" fill="#6272bd"/>
<polygon points="1172.3,937.6 1195.6,937.6 1204.5,950.9 1202.6,955.9 1167.3,955.9 1164.8,950.9" fill="#6272bd"/>
<rect x="1159.7" y="956.5" width="49.8" height="6.3" fill="#6272bd"/>
<rect x="1172.3" y="962" width="26.2" height="44.0" fill="#6272bd"/>
<rect x="1173.8" y="963.5" width="4.2" height="10.5" fill="#2e4780"/>
<rect x="1173.8" y="976.2" width="4.2" height="10.4" fill="#2e4780"/>
<rect x="1173.8" y="988.8" width="4.2" height="10.4" fill="#2e4780"/>
<rect x="1173.8" y="1001.4" width="4.2" height="4.6" fill="#2e4780"/>
<rect x="1179.9" y="963.5" width="10.7" height="10.5" fill="#2e4780"/>
<rect x="1179.9" y="976.2" width="10.7" height="10.4" fill="#2e4780"/>
<rect x="1179.9" y="988.8" width="10.7" height="10.4" fill="#2e4780"/>
<rect x="1179.9" y="1001.4" width="10.7" height="4.6" fill="#2e4780"/>
<rect x="1192.5" y="963.5" width="4.5" height="10.5" fill="#2e4780"/>
<rect x="1192.5" y="976.2" width="4.5" height="10.4" fill="#2e4780"/>
<rect x="1192.5" y="988.8" width="4.5" height="10.4" fill="#2e4780"/>
<rect x="1192.5" y="1001.4" width="4.5" height="4.6" fill="#2e4780"/>
<rect x="1159.7" y="967.3" width="10.1" height="2.5" fill="#6272bd"/>
<rect x="1200" y="967.3" width="9.5" height="2.5" fill="#6272bd"/>
<rect x="1159.7" y="973.6" width="10.1" height="2.5" fill="#6272bd"/>
<rect x="1200" y="973.6" width="9.5" height="2.5" fill="#6272bd"/>
<rect x="1159.7" y="979.9" width="10.1" height="2.5" fill="#6272bd"/>
<rect x="1200" y="979.9" width="9.5" height="2.5" fill="#6272bd"/>
<rect x="1159.7" y="986.2" width="10.1" height="2.5" fill="#6272bd"/>
<rect x="1200" y="986.2" width="9.5" height="2.5" fill="#6272bd"/>
<rect x="1159.7" y="992.8" width="10.1" height="2.5" fill="#6272bd"/>
<rect x="1200" y="992.8" width="9.5" height="2.5" fill="#6272bd"/>
<rect x="1159.7" y="999.1" width="10.1" height="2.5" fill="#6272bd"/>
<rect x="1200" y="999.1" width="9.5" height="2.5" fill="#6272bd"/>
<polygon points="1218.9,925 1261.8,925 1263,1006 1217.6,1006" fill="#6272bd"/>
<rect x="1222.7" y="927.2" width="4.4" height="1.9" fill="#2e4780"/>
<rect x="1230.6" y="927.2" width="20.2" height="1.9" fill="#2e4780"/>
<rect x="1254.2" y="927.2" width="4.4" height="1.9" fill="#2e4780"/>
<rect x="1222.7" y="934.37" width="4.4" height="1.9" fill="#2e4780"/>
<rect x="1230.6" y="934.37" width="20.2" height="1.9" fill="#2e4780"/>
<rect x="1254.2" y="934.37" width="4.4" height="1.9" fill="#2e4780"/>
<rect x="1222.7" y="941.5400000000001" width="4.4" height="1.9" fill="#2e4780"/>
<rect x="1230.6" y="941.5400000000001" width="20.2" height="1.9" fill="#2e4780"/>
<rect x="1254.2" y="941.5400000000001" width="4.4" height="1.9" fill="#2e4780"/>
<rect x="1222.7" y="948.71" width="4.4" height="1.9" fill="#2e4780"/>
<rect x="1230.6" y="948.71" width="20.2" height="1.9" fill="#2e4780"/>
<rect x="1254.2" y="948.71" width="4.4" height="1.9" fill="#2e4780"/>
<rect x="1222.7" y="955.88" width="4.4" height="1.9" fill="#2e4780"/>
<rect x="1230.6" y="955.88" width="20.2" height="1.9" fill="#2e4780"/>
<rect x="1254.2" y="955.88" width="4.4" height="1.9" fill="#2e4780"/>
<rect x="1222.7" y="963.0500000000001" width="4.4" height="1.9" fill="#2e4780"/>
<rect x="1230.6" y="963.0500000000001" width="20.2" height="1.9" fill="#2e4780"/>
<rect x="1254.2" y="963.0500000000001" width="4.4" height="1.9" fill="#2e4780"/>
<rect x="1222.7" y="970.22" width="4.4" height="1.9" fill="#2e4780"/>
<rect x="1230.6" y="970.22" width="20.2" height="1.9" fill="#2e4780"/>
<rect x="1254.2" y="970.22" width="4.4" height="1.9" fill="#2e4780"/>
<rect x="1222.7" y="977.3900000000001" width="4.4" height="1.9" fill="#2e4780"/>
<rect x="1230.6" y="977.3900000000001" width="20.2" height="1.9" fill="#2e4780"/>
<rect x="1254.2" y="977.3900000000001" width="4.4" height="1.9" fill="#2e4780"/>
<rect x="1222.7" y="984.5600000000001" width="4.4" height="1.9" fill="#2e4780"/>
<rect x="1230.6" y="984.5600000000001" width="20.2" height="1.9" fill="#2e4780"/>
<rect x="1254.2" y="984.5600000000001" width="4.4" height="1.9" fill="#2e4780"/>
<rect x="1222.7" y="991.73" width="4.4" height="1.9" fill="#2e4780"/>
<rect x="1230.6" y="991.73" width="20.2" height="1.9" fill="#2e4780"/>
<rect x="1254.2" y="991.73" width="4.4" height="1.9" fill="#2e4780"/>
<rect x="1222.7" y="998.9000000000001" width="4.4" height="1.9" fill="#2e4780"/>
<rect x="1230.6" y="998.9000000000001" width="20.2" height="1.9" fill="#2e4780"/>
<rect x="1254.2" y="998.9000000000001" width="4.4" height="1.9" fill="#2e4780"/>
<rect x="1268" y="980.2" width="53.0" height="25.8" fill="#6272bd"/>
<rect x="1271.2" y="983.6" width="3.5" height="1.5" fill="#2e4780"/>
<rect x="1277.5" y="983.6" width="3.5" height="1.5" fill="#2e4780"/>
<rect x="1283.8" y="983.6" width="3.5" height="1.5" fill="#2e4780"/>
<rect x="1290.1000000000001" y="983.6" width="3.5" height="1.5" fill="#2e4780"/>
<rect x="1296.4" y="983.6" width="3.5" height="1.5" fill="#2e4780"/>
<rect x="1302.7" y="983.6" width="3.5" height="1.5" fill="#2e4780"/>
<rect x="1309.0" y="983.6" width="3.5" height="1.5" fill="#2e4780"/>
<rect x="1315.3" y="983.6" width="3.5" height="1.5" fill="#2e4780"/>
<rect x="1271.2" y="987.0" width="3.5" height="1.5" fill="#2e4780"/>
<rect x="1277.5" y="987.0" width="3.5" height="1.5" fill="#2e4780"/>
<rect x="1283.8" y="987.0" width="3.5" height="1.5" fill="#2e4780"/>
<rect x="1290.1000000000001" y="987.0" width="3.5" height="1.5" fill="#2e4780"/>
<rect x="1296.4" y="987.0" width="3.5" height="1.5" fill="#2e4780"/>
<rect x="1302.7" y="987.0" width="3.5" height="1.5" fill="#2e4780"/>
<rect x="1309.0" y="987.0" width="3.5" height="1.5" fill="#2e4780"/>
<rect x="1315.3" y="987.0" width="3.5" height="1.5" fill="#2e4780"/>
<rect x="1271.2" y="990.4" width="3.5" height="1.5" fill="#2e4780"/>
<rect x="1277.5" y="990.4" width="3.5" height="1.5" fill="#2e4780"/>
<rect x="1283.8" y="990.4" width="3.5" height="1.5" fill="#2e4780"/>
<rect x="1290.1000000000001" y="990.4" width="3.5" height="1.5" fill="#2e4780"/>
<rect x="1296.4" y="990.4" width="3.5" height="1.5" fill="#2e4780"/>
<rect x="1302.7" y="990.4" width="3.5" height="1.5" fill="#2e4780"/>
<rect x="1309.0" y="990.4" width="3.5" height="1.5" fill="#2e4780"/>
<rect x="1315.3" y="990.4" width="3.5" height="1.5" fill="#2e4780"/>
<rect x="1271.2" y="993.8000000000001" width="3.5" height="1.5" fill="#2e4780"/>
<rect x="1277.5" y="993.8000000000001" width="3.5" height="1.5" fill="#2e4780"/>
<rect x="1283.8" y="993.8000000000001" width="3.5" height="1.5" fill="#2e4780"/>
<rect x="1290.1000000000001" y="993.8000000000001" width="3.5" height="1.5" fill="#2e4780"/>
<rect x="1296.4" y="993.8000000000001" width="3.5" height="1.5" fill="#2e4780"/>
<rect x="1302.7" y="993.8000000000001" width="3.5" height="1.5" fill="#2e4780"/>
<rect x="1309.0" y="993.8000000000001" width="3.5" height="1.5" fill="#2e4780"/>
<rect x="1315.3" y="993.8000000000001" width="3.5" height="1.5" fill="#2e4780"/>
<rect x="1271.2" y="997.2" width="3.5" height="1.5" fill="#2e4780"/>
<rect x="1277.5" y="997.2" width="3.5" height="1.5" fill="#2e4780"/>
<rect x="1283.8" y="997.2" width="3.5" height="1.5" fill="#2e4780"/>
<rect x="1290.1000000000001" y="997.2" width="3.5" height="1.5" fill="#2e4780"/>
<rect x="1296.4" y="997.2" width="3.5" height="1.5" fill="#2e4780"/>
<rect x="1302.7" y="997.2" width="3.5" height="1.5" fill="#2e4780"/>
<rect x="1309.0" y="997.2" width="3.5" height="1.5" fill="#2e4780"/>
<rect x="1315.3" y="997.2" width="3.5" height="1.5" fill="#2e4780"/>
<rect x="1271.2" y="1000.6" width="3.5" height="1.5" fill="#2e4780"/>
<rect x="1277.5" y="1000.6" width="3.5" height="1.5" fill="#2e4780"/>
<rect x="1283.8" y="1000.6" width="3.5" height="1.5" fill="#2e4780"/>
<rect x="1290.1000000000001" y="1000.6" width="3.5" height="1.5" fill="#2e4780"/>
<rect x="1296.4" y="1000.6" width="3.5" height="1.5" fill="#2e4780"/>
<rect x="1302.7" y="1000.6" width="3.5" height="1.5" fill="#2e4780"/>
<rect x="1309.0" y="1000.6" width="3.5" height="1.5" fill="#2e4780"/>
<rect x="1315.3" y="1000.6" width="3.5" height="1.5" fill="#2e4780"/>
<rect x="1271.2" y="1004.0" width="3.5" height="1.5" fill="#2e4780"/>
<rect x="1277.5" y="1004.0" width="3.5" height="1.5" fill="#2e4780"/>
<rect x="1283.8" y="1004.0" width="3.5" height="1.5" fill="#2e4780"/>
<rect x="1290.1000000000001" y="1004.0" width="3.5" height="1.5" fill="#2e4780"/>
<rect x="1296.4" y="1004.0" width="3.5" height="1.5" fill="#2e4780"/>
<rect x="1302.7" y="1004.0" width="3.5" height="1.5" fill="#2e4780"/>
<rect x="1309.0" y="1004.0" width="3.5" height="1.5" fill="#2e4780"/>
<rect x="1315.3" y="1004.0" width="3.5" height="1.5" fill="#2e4780"/>
<line x1="1408.4" y1="933" x2="1408.4" y2="949" stroke="#6272bd" stroke-width="1"/>
<path d="M1399.6,947 L1401.5,949.5 L1404,947.5 L1406.5,949.5 L1408.4,946.5 L1410.3,949.5 L1412.8,947.5 L1415.3,949.5 L1417.2,947 L1417.2,951.3 Q1419,968 1428.3,976.1 L1428.3,1006 L1390.4,1006 L1390.4,976.1 Q1399,968 1400.2,951.3 Z" fill="#6272bd"/>
<rect x="1400.9" y="956.5" width="6.5" height="1.6" fill="#2e4780"/>
<rect x="1409.3" y="956.5" width="6.6" height="1.6" fill="#2e4780"/>
<rect x="1400.9" y="960.4" width="6.5" height="1.6" fill="#2e4780"/>
<rect x="1409.3" y="960.4" width="6.6" height="1.6" fill="#2e4780"/>
<rect x="1400.9" y="964.3" width="6.5" height="1.6" fill="#2e4780"/>
<rect x="1409.3" y="964.3" width="6.6" height="1.6" fill="#2e4780"/>
<rect x="1400.9" y="968.2" width="6.5" height="1.6" fill="#2e4780"/>
<rect x="1409.3" y="968.2" width="6.6" height="1.6" fill="#2e4780"/>
<rect x="1400.9" y="972.1" width="6.5" height="1.6" fill="#2e4780"/>
<rect x="1409.3" y="972.1" width="6.6" height="1.6" fill="#2e4780"/>
<rect x="1394.1" y="982" width="3.9" height="2.3" fill="#2e4780"/>
<rect x="1400.2" y="982" width="18.7" height="2.3" fill="#2e4780"/>
<rect x="1421.1" y="982" width="3.9" height="2.3" fill="#2e4780"/>
<rect x="1394.1" y="986.5" width="3.9" height="2.3" fill="#2e4780"/>
<rect x="1400.2" y="986.5" width="18.7" height="2.3" fill="#2e4780"/>
<rect x="1421.1" y="986.5" width="3.9" height="2.3" fill="#2e4780"/>
<rect x="1394.1" y="990.7" width="3.9" height="2.3" fill="#2e4780"/>
<rect x="1400.2" y="990.7" width="18.7" height="2.3" fill="#2e4780"/>
<rect x="1421.1" y="990.7" width="3.9" height="2.3" fill="#2e4780"/>
<rect x="1394.1" y="995" width="3.9" height="2.3" fill="#2e4780"/>
<rect x="1400.2" y="995" width="18.7" height="2.3" fill="#2e4780"/>
<rect x="1421.1" y="995" width="3.9" height="2.3" fill="#2e4780"/>
<rect x="1394.1" y="999.5" width="3.9" height="2.3" fill="#2e4780"/>
<rect x="1400.2" y="999.5" width="18.7" height="2.3" fill="#2e4780"/>
<rect x="1421.1" y="999.5" width="3.9" height="2.3" fill="#2e4780"/>
<rect x="1394.1" y="1003.5" width="3.9" height="2.3" fill="#2e4780"/>
<rect x="1400.2" y="1003.5" width="18.7" height="2.3" fill="#2e4780"/>
<rect x="1421.1" y="1003.5" width="3.9" height="2.3" fill="#2e4780"/>
</g>
</svg>
<div id="brand" class="abs">申港证券</div>
<div id="brand2" class="abs">SHENGANG SECURITIES</div>
<div id="slogan" class="abs">申情港意</div>
<div id="title" class="abs"><span class="l">2.4 </span>万得全<span class="l">A </span>（除金融、石化）估值</div>
<div id="bullet"></div>
<div id="body" class="abs">本报告期，万得全<span class="l">A</span>（除金融、石化）<span class="l">PE</span>目前为<span class="l">33.99</span>，较上期上升<span class="l">0.34%</span>，所处百分位<span class="l">69%</span>。万得全<span class="l">A PB</span>目前为<span class="l">3.16</span>，<br>较上期上升<span class="l">0.93%</span>，所处百分位<span class="l">82%</span>。</div>
<div id="src" class="abs">资料来源：<b>WIND</b>，申港证券研究所</div>
</body></html>
